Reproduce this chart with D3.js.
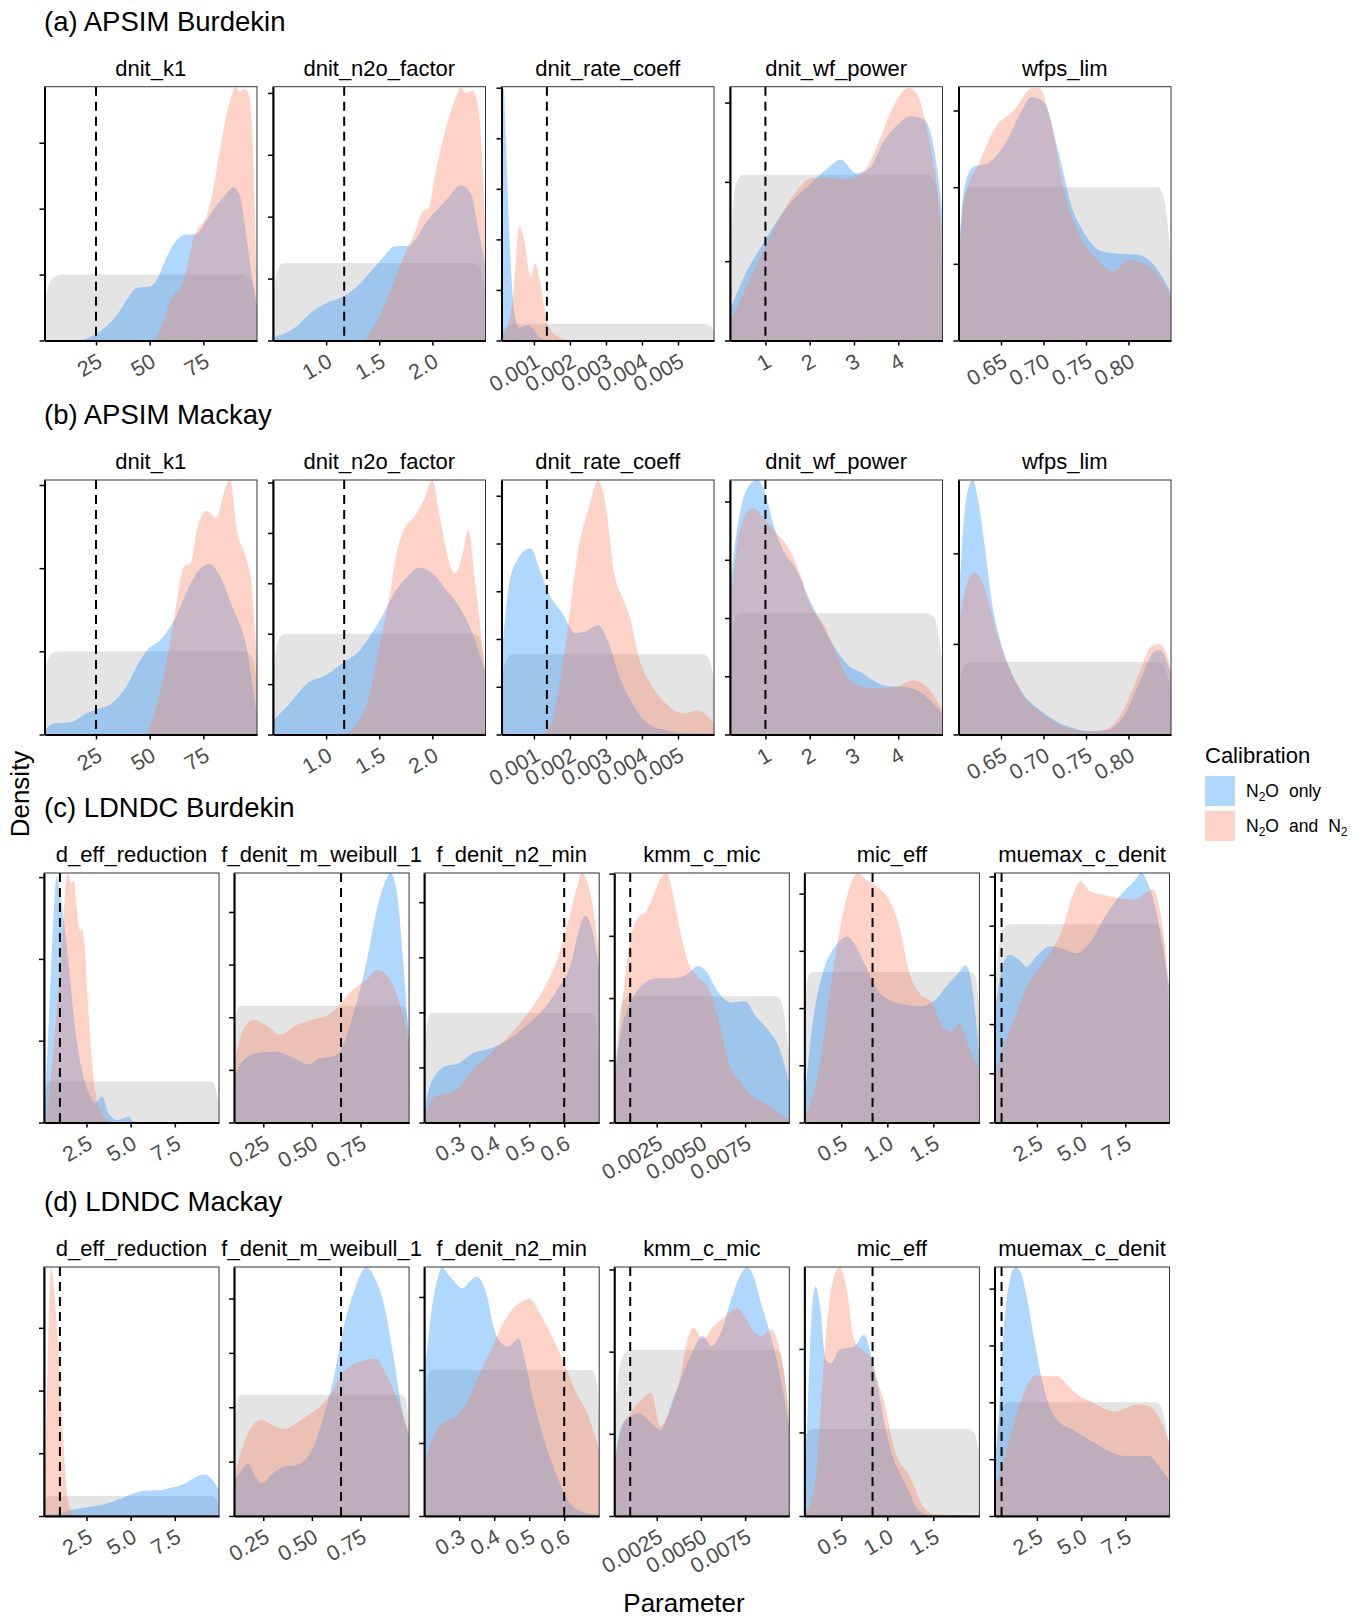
<!DOCTYPE html>
<html>
<head>
<meta charset="utf-8">
<script src="https://cdn.jsdelivr.net/npm/d3@7"></script>
<style>
  body { margin: 0; background: #fff; }
  text { font-family: "Liberation Sans", Arial, sans-serif; }
</style>
</head>
<body>
<div id="chart"></div>
<script>
// ---- data (density in axis-tick units) ----
var rowTitles = ["(a) APSIM Burdekin", "(b) APSIM Mackay", "(c) LDNDC Burdekin", "(d) LDNDC Mackay"];
var calibrations = ["N2O only", "N2O and N2"];

var apsimParams = ["dnit_k1", "dnit_n2o_factor", "dnit_rate_coeff", "dnit_wf_power", "wfps_lim"];
var apsimDomains = [[1, 100], [0.5, 2.5], [0.0001, 0.006], [0.2, 5], [0.6, 0.85]];
var apsimTicks = [[25, 50, 75], [1, 1.5, 2], [0.001, 0.002, 0.003, 0.004, 0.005], [1, 2, 3, 4], [0.65, 0.7, 0.75, 0.8]];
var apsimTickLabels = [["25", "50", "75"], ["1.0", "1.5", "2.0"], ["0.001", "0.002", "0.003", "0.004", "0.005"], ["1", "2", "3", "4"], ["0.65", "0.70", "0.75", "0.80"]];
var apsimRef = [25, 1.17, 0.00136, 1, null];

var ldndcParams = ["d_eff_reduction", "f_denit_m_weibull_1", "f_denit_n2_min", "kmm_c_mic", "mic_eff", "muemax_c_denit"];
var ldndcDomains = [[0.1, 10], [0.1, 1.0], [0.2, 0.7], [0.0001, 0.01], [0.1, 2.0], [0.1, 10]];
var ldndcTicks = [[2.5, 5, 7.5], [0.25, 0.5, 0.75], [0.3, 0.4, 0.5, 0.6], [0.0025, 0.005, 0.0075], [0.5, 1, 1.5], [2.5, 5, 7.5]];
var ldndcTickLabels = [["2.5", "5.0", "7.5"], ["0.25", "0.50", "0.75"], ["0.3", "0.4", "0.5", "0.6"], ["0.0025", "0.0050", "0.0075"], ["0.5", "1.0", "1.5"], ["2.5", "5.0", "7.5"]];
var ldndcRef = [1.0, 0.65, 0.6, 0.001, 0.84, 0.5];

// (a) APSIM Burdekin
var aYMax = [3.85, 4.1, 5.02, 3.2, 3.31];
var aPrior = [
  [[1,0.55],[2.5,0.8],[5,0.95],[9,1.0],[93,1.0],[96,0.95],[98.5,0.8],[100,0.55]],
  [[0.5,0.7],[0.53,1.05],[0.57,1.22],[0.62,1.25],[2.38,1.25],[2.43,1.22],[2.47,1.05],[2.5,0.7]],
  [[0.0001,0.15],[0.00025,0.28],[0.0005,0.33],[0.0057,0.33],[0.0059,0.28],[0.006,0.18]],
  [[0.2,0.9],[0.26,1.6],[0.35,2.0],[0.5,2.09],[4.65,2.09],[4.82,2.0],[4.93,1.55],[5.0,0.9]],
  [[0.6,0.8],[0.603,1.5],[0.607,1.9],[0.613,2.0],[0.835,2.0],[0.842,1.85],[0.847,1.4],[0.85,1.0]]
];
var aN2O = [
  [[17,0],[22,0.05],[25,0.1],[30,0.22],[35,0.4],[40,0.65],[44,0.8],[50,0.82],[53,0.9],[57,1.2],[62,1.5],[66,1.6],[72,1.62],[76,1.8],[80,2.0],[85,2.2],[89,2.33],[92,2.2],[95,1.6],[98,0.9],[100,0.5]],
  [[0.5,0.05],[0.7,0.2],[0.87,0.47],[1.0,0.6],[1.16,0.71],[1.29,0.87],[1.41,1.09],[1.54,1.35],[1.64,1.52],[1.77,1.53],[1.96,1.95],[2.13,2.27],[2.27,2.51],[2.36,2.38],[2.44,1.73],[2.5,1.2]],
  [[0.0001,4.6],[0.00016,5.0],[0.00022,4.0],[0.0003,2.4],[0.0004,1.0],[0.0005,0.4],[0.0006,0.25],[0.0008,0.3],[0.00095,0.25],[0.0011,0.1],[0.0013,0.02],[0.0015,0]],
  [[0.2,0.39],[0.56,0.85],[1,1.27],[1.56,1.73],[2.06,2.0],[2.36,2.15],[2.7,2.28],[3.05,2.11],[3.35,2.17],[3.65,2.49],[3.95,2.7],[4.3,2.83],[4.6,2.78],[4.85,2.28],[5.0,1.6]],
  [[0.6,1.14],[0.607,2.0],[0.618,2.27],[0.634,2.31],[0.655,2.57],[0.673,2.97],[0.686,3.18],[0.701,3.1],[0.717,2.49],[0.733,1.75],[0.748,1.4],[0.769,1.16],[0.79,1.13],[0.81,1.12],[0.831,0.97],[0.85,0.62]]
];
var aN2ON2 = [
  [[50,0],[53,0.05],[56,0.25],[59,0.55],[62,0.72],[64,0.78],[67,1.05],[70,1.5],[73,1.72],[76,1.85],[79,2.2],[82,2.75],[85,3.3],[88,3.7],[90,3.85],[92,3.78],[94,3.82],[96,3.75],[98,3.0],[99.3,1.5],[100,0.4]],
  [[1.37,0],[1.5,0.39],[1.62,0.87],[1.73,1.35],[1.83,1.73],[1.92,2.11],[1.96,2.13],[2.04,2.8],[2.13,3.45],[2.21,3.88],[2.27,4.09],[2.31,4.0],[2.38,4.04],[2.44,3.67],[2.5,1.7]],
  [[0.0001,0],[0.00016,0.1],[0.00041,0.8],[0.0006,2.25],[0.00073,2.0],[0.00091,1.26],[0.00104,1.53],[0.00116,1.2],[0.00135,0.4],[0.00154,0.15],[0.00185,0.03],[0.0021,0]],
  [[0.2,0.22],[1,1.18],[1.56,1.77],[2.06,2.05],[2.46,2.05],[2.86,2.03],[3.25,2.15],[3.55,2.49],[3.85,2.91],[4.25,3.19],[4.45,3.08],[4.7,2.53],[4.9,1.86],[5.0,1.35]],
  [[0.6,1.05],[0.608,1.88],[0.624,2.31],[0.644,2.79],[0.665,3.0],[0.686,3.29],[0.694,3.3],[0.709,2.83],[0.725,1.92],[0.743,1.36],[0.764,1.05],[0.782,0.9],[0.8,1.05],[0.821,0.99],[0.836,0.83],[0.85,0.57]]
];

// (b) APSIM Mackay
var bYMax = [3.06, 5.05, 5.33, 4.37, 2.81];
var bPrior = [
  [[1,0.7],[2.5,0.9],[5,0.98],[8,1.0],[94,1.0],[97,0.95],[99,0.8],[100,0.6]],
  [[0.5,1.2],[0.53,1.7],[0.57,1.95],[0.62,2.0],[2.38,2.0],[2.43,1.95],[2.47,1.7],[2.5,1.2]],
  [[0.0001,1.1],[0.0002,1.5],[0.0004,1.68],[0.0057,1.68],[0.0059,1.5],[0.006,1.1]],
  [[0.2,1.3],[0.26,1.8],[0.35,2.05],[0.5,2.08],[4.65,2.08],[4.82,2.0],[4.93,1.6],[5.0,1.2]],
  [[0.6,0.45],[0.603,0.65],[0.607,0.76],[0.613,0.8],[0.835,0.8],[0.842,0.75],[0.847,0.6],[0.85,0.45]]
];
var bN2O = [
  [[1,0.05],[5,0.13],[13.5,0.15],[20,0.25],[25,0.3],[32,0.37],[39,0.57],[44,0.82],[49,1.02],[55,1.14],[61.5,1.38],[67.7,1.74],[73,1.98],[78,2.05],[82,1.94],[88.5,1.54],[95,1.06],[100,0.21]],
  [[0.5,0.28],[0.66,0.62],[0.82,1.01],[1.0,1.18],[1.17,1.44],[1.29,1.61],[1.41,1.94],[1.54,2.4],[1.64,2.8],[1.75,3.1],[1.87,3.31],[2.0,3.2],[2.13,2.87],[2.25,2.54],[2.38,2.0],[2.5,1.21]],
  [[0.0001,1.63],[0.00029,3.03],[0.00054,3.66],[0.00091,3.9],[0.00116,3.45],[0.00141,2.96],[0.00179,2.54],[0.00216,2.12],[0.00241,2.15],[0.00279,2.29],[0.00304,1.98],[0.00341,1.14],[0.00379,0.58],[0.00416,0.23],[0.00466,0.09],[0.00516,0.03],[0.006,0.02]],
  [[0.2,2.54],[0.38,3.63],[0.57,4.2],[0.81,4.37],[1.0,4.14],[1.17,3.63],[1.4,3.17],[1.7,2.83],[2.0,2.31],[2.3,1.85],[2.6,1.45],[2.91,1.16],[3.13,1.08],[3.43,0.93],[3.74,0.83],[4.04,0.82],[4.34,0.79],[4.64,0.65],[5.0,0.36]],
  [[0.6,1.41],[0.606,2.33],[0.611,2.7],[0.617,2.81],[0.623,2.59],[0.631,2.07],[0.639,1.48],[0.649,1.04],[0.661,0.71],[0.676,0.45],[0.696,0.27],[0.716,0.14],[0.735,0.07],[0.755,0.04],[0.775,0.05],[0.794,0.2],[0.814,0.6],[0.83,0.91],[0.837,0.93],[0.85,0.67]]
];
var bN2ON2 = [
  [[49,0],[53,0.33],[57.5,0.82],[61.5,1.42],[66,2.02],[69,2.06],[72,2.46],[76.5,2.69],[81,2.6],[84.5,2.9],[87.5,3.06],[90.6,2.46],[95,2.12],[97.5,1.8],[100,0.8]],
  [[1.18,0],[1.29,0.22],[1.41,0.81],[1.5,1.74],[1.59,2.67],[1.67,3.66],[1.75,4.13],[1.83,4.32],[1.92,4.66],[2.0,5.05],[2.07,4.32],[2.13,3.66],[2.21,3.2],[2.27,3.46],[2.34,4.06],[2.4,3.07],[2.5,1.21]],
  [[0.00123,0],[0.00148,0.23],[0.00173,1.14],[0.00198,2.47],[0.00223,3.87],[0.00254,4.78],[0.00279,5.33],[0.00298,4.85],[0.00323,3.38],[0.00348,2.82],[0.00366,2.47],[0.00391,1.63],[0.00429,1.0],[0.00466,0.65],[0.00516,0.44],[0.00554,0.51],[0.006,0.23]],
  [[0.2,2.19],[0.38,3.34],[0.57,3.8],[0.72,3.89],[1.0,3.68],[1.25,3.46],[1.55,3.17],[1.78,2.77],[2.0,2.25],[2.3,1.91],[2.6,1.39],[2.91,0.93],[3.21,0.82],[3.58,0.79],[3.96,0.82],[4.34,0.93],[4.64,0.82],[5.0,0.42]],
  [[0.6,1.19],[0.61,1.67],[0.619,1.79],[0.629,1.67],[0.639,1.34],[0.649,1.0],[0.661,0.71],[0.676,0.43],[0.696,0.25],[0.716,0.12],[0.735,0.06],[0.755,0.03],[0.775,0.06],[0.794,0.27],[0.814,0.71],[0.826,0.97],[0.836,1.0],[0.843,0.93],[0.85,0.71]]
];

// (c) LDNDC Burdekin
var cYMax = [3.05, 4.74, 4.53, 4.01, 4.36, 5.07];
var cPrior = [
  [[0.1,0.1],[0.2,0.38],[0.4,0.5],[9.6,0.5],[9.85,0.38],[10,0.12]],
  [[0.1,1.6],[0.11,2.0],[0.125,2.2],[0.14,2.22],[0.96,2.22],[0.975,2.2],[0.99,2.0],[1.0,1.6]],
  [[0.2,1.08],[0.207,1.7],[0.215,1.95],[0.225,1.99],[0.675,1.99],[0.685,1.95],[0.693,1.7],[0.7,1.1]],
  [[0.0001,0.63],[0.0003,1.5],[0.0006,1.95],[0.001,2.03],[0.0093,2.03],[0.0096,1.9],[0.0098,1.55],[0.01,1.0]],
  [[0.1,1.62],[0.12,2.3],[0.15,2.58],[0.2,2.63],[1.9,2.63],[1.95,2.58],[1.98,2.3],[2.0,1.62]],
  [[0.1,2.43],[0.3,3.4],[0.6,3.95],[1.0,4.03],[9.3,4.03],[9.6,3.8],[9.85,3.0],[10,1.9]]
];
var cN2O = [
  [[0.1,0],[0.35,1.13],[0.6,2.36],[0.81,3.01],[0.98,2.85],[1.24,2.44],[1.49,1.95],[1.87,1.13],[2.25,0.64],[2.63,0.36],[3.0,0.24],[3.38,0.32],[3.76,0.11],[4.27,0.03],[4.9,0.07],[5.15,0.01],[5.66,0]],
  [[0.1,0.87],[0.15,1.19],[0.22,1.32],[0.31,1.35],[0.41,1.22],[0.48,1.1],[0.54,1.22],[0.61,1.26],[0.65,1.38],[0.71,2.02],[0.78,3.03],[0.83,3.98],[0.88,4.6],[0.905,4.74],[0.94,4.3],[0.97,3.03],[1.0,1.51]],
  [[0.2,0.23],[0.22,0.72],[0.26,1.02],[0.3,1.08],[0.34,1.26],[0.39,1.35],[0.44,1.5],[0.49,1.75],[0.54,2.05],[0.58,2.41],[0.62,2.9],[0.64,3.44],[0.66,3.76],[0.68,3.5],[0.7,2.78]],
  [[0.0001,0.74],[0.0005,1.49],[0.001,1.92],[0.0016,2.19],[0.0025,2.32],[0.0035,2.32],[0.0043,2.4],[0.0048,2.51],[0.0053,2.43],[0.0059,2.13],[0.0067,1.93],[0.0075,1.95],[0.0081,1.71],[0.0088,1.49],[0.0094,1.22],[0.01,0.63]],
  [[0.1,0.34],[0.18,1.62],[0.31,2.67],[0.43,3.07],[0.56,3.25],[0.64,3.13],[0.77,2.72],[0.89,2.32],[1.02,2.14],[1.18,2.06],[1.35,2.03],[1.52,2.14],[1.64,2.38],[1.77,2.61],[1.85,2.75],[1.91,2.49],[2.0,1.15]],
  [[0.1,2.15],[0.5,3.1],[0.94,3.41],[1.48,3.31],[1.92,3.17],[2.46,3.37],[3.21,3.58],[3.86,3.54],[4.73,3.44],[5.6,3.71],[6.46,4.25],[7.33,4.66],[7.98,4.9],[8.41,5.07],[8.84,4.8],[9.27,4.25],[9.6,3.58],[10,2.7]]
];
var cN2ON2 = [
  [[0.23,0],[0.73,1.13],[1.11,2.16],[1.36,2.97],[1.49,3.04],[1.62,2.93],[1.79,2.95],[1.92,2.69],[2.12,2.36],[2.25,2.36],[2.37,2.24],[2.63,1.3],[2.88,0.6],[3.13,0.24],[3.5,0.07],[3.89,0.01]],
  [[0.1,1.13],[0.14,1.7],[0.2,1.95],[0.27,1.83],[0.34,1.67],[0.41,1.83],[0.5,1.95],[0.59,2.05],[0.65,2.27],[0.71,2.52],[0.78,2.71],[0.84,2.9],[0.89,2.78],[0.94,2.4],[0.97,2.02],[1.0,1.51]],
  [[0.2,0.11],[0.23,0.47],[0.29,0.59],[0.34,0.96],[0.39,1.26],[0.44,1.56],[0.49,1.93],[0.54,2.41],[0.58,2.96],[0.61,3.62],[0.64,4.35],[0.65,4.53],[0.67,4.29],[0.69,3.56],[0.7,3.02]],
  [[0.0001,0.53],[0.0005,1.76],[0.001,2.94],[0.0015,3.31],[0.0019,3.39],[0.0023,3.64],[0.0028,3.96],[0.0031,4.0],[0.0034,3.69],[0.0039,2.99],[0.0043,2.56],[0.0048,2.35],[0.0055,2.13],[0.0059,1.76],[0.0066,0.95],[0.0073,0.63],[0.0079,0.42],[0.0088,0.28],[0.0094,0.15],[0.01,0.04]],
  [[0.1,0.05],[0.27,1.04],[0.39,2.43],[0.52,3.66],[0.62,4.24],[0.68,4.36],[0.77,4.24],[0.89,4.12],[1.02,3.89],[1.14,3.37],[1.23,2.67],[1.35,2.26],[1.49,2.08],[1.6,1.68],[1.69,1.59],[1.79,1.74],[1.87,1.39],[2.0,0.92]],
  [[0.1,0.93],[0.62,1.54],[1.27,2.15],[1.92,2.76],[2.56,3.1],[3.21,3.44],[3.86,3.85],[4.51,4.59],[4.95,4.9],[5.49,4.7],[6.24,4.63],[7.11,4.56],[7.98,4.53],[8.63,4.66],[9.06,4.74],[9.49,4.25],[10,2.7]]
];

// (d) LDNDC Mackay
var dYMax = [3.97, 4.58, 3.41, 3.03, 2.98, 4.38];
var dPrior = [
  [[0.1,0.15],[0.2,0.27],[0.4,0.32],[9.6,0.32],[9.85,0.27],[10,0.15]],
  [[0.1,1.58],[0.11,2.0],[0.125,2.2],[0.14,2.23],[0.96,2.23],[0.975,2.2],[0.99,2.0],[1.0,1.58]],
  [[0.2,1.36],[0.207,1.8],[0.215,1.97],[0.225,2.0],[0.675,2.0],[0.685,1.97],[0.693,1.8],[0.7,1.36]],
  [[0.0001,1.05],[0.0003,1.65],[0.0006,1.95],[0.001,2.02],[0.0093,2.02],[0.0096,1.9],[0.0098,1.6],[0.01,1.05]],
  [[0.1,0.71],[0.12,0.92],[0.15,1.02],[0.2,1.04],[1.88,1.04],[1.94,1.0],[1.98,0.85],[2.0,0.63]],
  [[0.1,0.93],[0.3,1.6],[0.6,1.95],[1.0,2.0],[9.3,2.0],[9.6,1.85],[9.85,1.5],[10,1.22]]
];
var dN2O = [
  [[0.1,0.02],[0.94,0.04],[1.72,0.1],[2.5,0.14],[3.39,0.18],[4.29,0.26],[4.96,0.34],[5.63,0.4],[6.52,0.41],[7.41,0.46],[8.08,0.52],[8.75,0.63],[9.2,0.66],[9.64,0.57],[10,0.41]],
  [[0.1,0.66],[0.14,0.85],[0.17,0.97],[0.21,0.72],[0.24,0.6],[0.3,0.79],[0.36,0.91],[0.42,0.94],[0.5,1.21],[0.56,1.83],[0.61,2.5],[0.66,3.42],[0.72,4.16],[0.78,4.58],[0.82,4.4],[0.87,3.91],[0.92,2.93],[0.96,2.01],[1.0,1.46]],
  [[0.2,1.86],[0.22,2.78],[0.24,3.28],[0.25,3.41],[0.27,3.3],[0.31,3.12],[0.33,3.21],[0.35,3.28],[0.38,3.0],[0.4,2.55],[0.42,2.37],[0.44,2.32],[0.47,2.43],[0.49,2.09],[0.51,1.63],[0.54,1.09],[0.58,0.54],[0.61,0.22],[0.65,0.06],[0.7,0.01]],
  [[0.0001,0.64],[0.0005,1.09],[0.001,1.21],[0.0015,1.25],[0.002,1.17],[0.0027,1.05],[0.0035,1.46],[0.0044,1.94],[0.0051,2.19],[0.0056,2.07],[0.0062,2.27],[0.0067,2.63],[0.0072,2.92],[0.0076,3.03],[0.0079,2.96],[0.0084,2.59],[0.009,2.15],[0.0094,1.78],[0.0097,1.46],[0.01,1.05]],
  [[0.1,0.19],[0.14,1.43],[0.18,2.43],[0.22,2.75],[0.27,2.51],[0.33,1.87],[0.39,1.83],[0.48,1.99],[0.56,2.01],[0.64,2.03],[0.75,2.17],[0.81,1.99],[0.89,1.59],[0.97,1.11],[1.06,0.71],[1.14,0.51],[1.23,0.31],[1.31,0.11],[1.39,0.03],[1.48,0]],
  [[0.1,0.63],[0.4,2.1],[0.62,3.28],[0.94,4.1],[1.27,4.38],[1.59,4.28],[1.92,3.86],[2.35,3.1],[2.78,2.4],[3.21,1.93],[3.86,1.63],[4.51,1.52],[5.16,1.4],[5.81,1.28],[6.46,1.16],[7.11,1.07],[7.98,1.05],[8.84,1.06],[9.27,0.93],[10,0.63]]
];
var dN2ON2 = [
  [[0.1,0.1],[0.31,2.44],[0.49,3.97],[0.71,3.5],[0.94,2.54],[1.16,1.37],[1.38,0.41],[1.61,0.1],[1.83,0.02],[2.1,0]],
  [[0.1,0.72],[0.15,1.34],[0.19,1.64],[0.24,1.77],[0.3,1.67],[0.36,1.6],[0.42,1.71],[0.48,1.86],[0.54,2.01],[0.6,2.26],[0.66,2.63],[0.72,2.81],[0.78,2.87],[0.83,2.9],[0.87,2.69],[0.92,2.32],[0.96,1.95],[1.0,1.52]],
  [[0.2,0.72],[0.23,1.13],[0.26,1.29],[0.29,1.36],[0.32,1.54],[0.35,1.86],[0.39,2.27],[0.42,2.59],[0.45,2.82],[0.49,2.96],[0.5,2.98],[0.53,2.78],[0.57,2.41],[0.6,2.09],[0.63,1.73],[0.67,1.36],[0.7,0.9]],
  [[0.0001,0.64],[0.0005,1.05],[0.001,1.25],[0.0016,1.41],[0.0022,1.5],[0.0027,1.09],[0.0031,1.21],[0.0038,1.66],[0.0043,2.19],[0.0046,2.29],[0.0051,2.15],[0.0057,2.31],[0.0064,2.43],[0.007,2.53],[0.0075,2.43],[0.0079,2.27],[0.0084,2.19],[0.009,2.27],[0.0094,2.07],[0.0097,1.74],[0.01,1.21]],
  [[0.1,0],[0.22,0.43],[0.31,1.83],[0.39,2.71],[0.48,2.98],[0.56,2.71],[0.64,2.11],[0.73,1.99],[0.81,1.91],[0.89,1.63],[0.97,1.35],[1.06,0.87],[1.14,0.63],[1.23,0.51],[1.31,0.31],[1.39,0.11],[1.52,0.02],[1.77,0.01],[2.0,0]],
  [[0.1,0.46],[0.83,1.22],[1.48,1.93],[2.02,2.34],[2.46,2.48],[3.0,2.46],[3.65,2.46],[4.3,2.28],[4.95,2.1],[5.6,2.01],[6.24,1.9],[6.89,1.84],[7.54,1.9],[8.19,1.96],[8.84,1.93],[9.38,1.75],[10,1.28]]
];

// ---- drawing ----
var colPrior = "#b3b3b3", colN2O = "#1e90ff", colN2ON2 = "#fa8060", fillAlpha = 0.35;

var svg = d3.select("#chart").append("svg")
  .attr("width", 1370).attr("height", 1618);

var rows = [
  {title: rowTitles[0], top: 86.7, h: 253.8, x0: 44.5, step: 228.5, w: 212.5, params: apsimParams, domains: apsimDomains, ticks: apsimTicks, labels: apsimTickLabels, ref: apsimRef, ymax: aYMax, prior: aPrior, s1: aN2O, s2: aN2ON2},
  {title: rowTitles[1], top: 480, h: 254.5, x0: 44.5, step: 228.5, w: 212.5, params: apsimParams, domains: apsimDomains, ticks: apsimTicks, labels: apsimTickLabels, ref: apsimRef, ymax: bYMax, prior: bPrior, s1: bN2O, s2: bN2ON2},
  {title: rowTitles[2], top: 873, h: 249.5, x0: 44, step: 190.1, w: 175, params: ldndcParams, domains: ldndcDomains, ticks: ldndcTicks, labels: ldndcTickLabels, ref: ldndcRef, ymax: cYMax, prior: cPrior, s1: cN2O, s2: cN2ON2},
  {title: rowTitles[3], top: 1267, h: 249, x0: 44, step: 190.1, w: 175, params: ldndcParams, domains: ldndcDomains, ticks: ldndcTicks, labels: ldndcTickLabels, ref: ldndcRef, ymax: dYMax, prior: dPrior, s1: dN2O, s2: dN2ON2}
];

var clipId = 0;

rows.forEach(function(r) {
  svg.append("text")
    .attr("x", 44).attr("y", r.top - 55.7)
    .attr("font-size", 27.5).attr("fill", "#000")
    .text(r.title);

  r.params.forEach(function(p, i) {
    var left = r.x0 + i * r.step, w = r.w, h = r.h;
    var g = svg.append("g").attr("transform", "translate(" + left + "," + r.top + ")");
    var x = d3.scaleLinear().domain(r.domains[i]).range([0, w]);
    var y = d3.scaleLinear().domain([0, r.ymax[i]]).range([h, 0]);

    var id = "clip" + (clipId++);
    g.append("clipPath").attr("id", id)
      .append("rect").attr("width", w).attr("height", h);

    var area = d3.area()
      .x(function(d) { return x(d[0]); })
      .y0(h)
      .y1(function(d) { return y(d[1]); })
      .curve(d3.curveMonotoneX);

    var layers = [[r.prior[i], colPrior], [r.s1[i], colN2O], [r.s2[i], colN2ON2]];
    g.selectAll("path.dens")
      .data(layers)
      .enter().append("path")
      .attr("class", "dens")
      .attr("clip-path", "url(#" + id + ")")
      .attr("d", function(d) { return area(d[0]); })
      .attr("fill", function(d) { return d[1]; })
      .attr("fill-opacity", fillAlpha);

    if (r.ref[i] != null) {
      g.append("line")
        .attr("x1", x(r.ref[i])).attr("x2", x(r.ref[i]))
        .attr("y1", 0).attr("y2", h)
        .attr("stroke", "#000").attr("stroke-width", 2)
        .attr("stroke-dasharray", "9,6");
    }

    g.append("rect")
      .attr("width", w).attr("height", h)
      .attr("fill", "none").attr("stroke", "#333").attr("stroke-width", 1);

    var yAxis = g.append("g")
      .call(d3.axisLeft(y)
        .tickValues(d3.range(0, Math.floor(r.ymax[i] + 1e-9) + 1))
        .tickFormat("")
        .tickSize(5).tickSizeOuter(0));
    yAxis.select(".domain").attr("stroke", "#000").attr("stroke-width", 2);
    yAxis.selectAll(".tick line").attr("stroke", "#000").attr("stroke-width", 1.5);

    var labs = r.labels[i];
    var xAxis = g.append("g")
      .attr("transform", "translate(0," + h + ")")
      .call(d3.axisBottom(x)
        .tickValues(r.ticks[i])
        .tickFormat(function(d, k) { return labs[k]; })
        .tickSize(5).tickSizeOuter(0));
    xAxis.select(".domain").attr("stroke", "#000").attr("stroke-width", 2);
    xAxis.selectAll(".tick line").attr("stroke", "#000").attr("stroke-width", 1.5);
    xAxis.selectAll(".tick text")
      .attr("y", 0).attr("dy", 0)
      .attr("text-anchor", "end")
      .attr("transform", "translate(7,25) rotate(-30)")
      .attr("font-size", 21.5)
      .attr("font-family", "Liberation Sans, Arial, sans-serif")
      .attr("fill", "#4d4d4d");

    svg.append("text")
      .attr("x", left + w / 2).attr("y", r.top - 11)
      .attr("text-anchor", "middle")
      .attr("font-size", 22).attr("fill", "#000")
      .text(p);
  });
});

// axis titles
svg.append("text")
  .attr("transform", "translate(29,794) rotate(-90)")
  .attr("text-anchor", "middle")
  .attr("font-size", 26).attr("fill", "#000")
  .text("Density");

svg.append("text")
  .attr("x", 684).attr("y", 1612)
  .attr("text-anchor", "middle")
  .attr("font-size", 26).attr("fill", "#000")
  .text("Parameter");

// legend
var leg = svg.append("g").attr("transform", "translate(1205,0)");
leg.append("text")
  .attr("x", 0).attr("y", 763)
  .attr("font-size", 22).attr("fill", "#000")
  .text("Calibration");

var legCols = [colN2O, colN2ON2];
calibrations.forEach(function(c, i) {
  var ky = 776 + i * 35;
  leg.append("rect")
    .attr("x", 0).attr("y", ky)
    .attr("width", 30).attr("height", 30)
    .attr("fill", legCols[i]).attr("fill-opacity", fillAlpha);
  var t = leg.append("text")
    .attr("x", 41).attr("y", ky + 21)
    .attr("font-size", 17.5).attr("fill", "#000");
  t.append("tspan").text("N");
  t.append("tspan").attr("font-size", 12).attr("dy", 4).text("2");
  t.append("tspan").attr("dy", -4).text("O");
  if (i === 0) {
    t.append("tspan").attr("dx", 10).text("only");
  } else {
    t.append("tspan").attr("dx", 10).text("and");
    t.append("tspan").attr("dx", 10).text("N");
    t.append("tspan").attr("font-size", 12).attr("dy", 4).text("2");
  }
});
</script>
</body>
</html>
